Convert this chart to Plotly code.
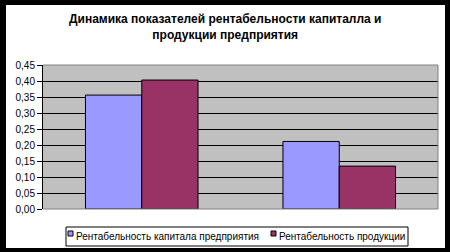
import plotly.graph_objects as go

categories = ["1", "2"]
capital = [0.356, 0.211]
product = [0.403, 0.134]
series_names = ["Рентабельность капитала предприятия", "Рентабельность продукции"]
series_colors = ["#9999FF", "#993366"]
tick_vals = [0, 0.05, 0.10, 0.15, 0.20, 0.25, 0.30, 0.35, 0.40, 0.45]
title_text = "Динамика показателей рентабельности капиталла и<br>продукции предприятия"

W, H = 450, 252
L, R, T, B = 43, 12, 65, 43
pw, ph = W - L - R, H - T - B

def px(x):
    return (x - L) / pw

def py(y):
    return (H - B - y) / ph

fig = go.Figure()
for vals, name, col in zip([capital, product], series_names, series_colors):
    fig.add_bar(x=categories, y=vals, name=name,
                marker=dict(color=col, line=dict(color="black", width=1)))

shapes = [
    dict(type="rect", xref="paper", yref="paper", layer="below",
         x0=px(6), x1=px(445), y0=py(248), y1=py(5),
         fillcolor="white", line=dict(width=0)),
    dict(type="rect", xref="paper", yref="paper", layer="below",
         x0=0, x1=1, y0=0, y1=1, fillcolor="#C0C0C0", line=dict(width=0)),
    dict(type="path", xref="paper", yref="paper", layer="above",
         path="M 0 1 L 1 1 L 1 0 L 0 0", line=dict(color="#808080", width=1)),
    # legend box
    dict(type="rect", xref="paper", yref="paper", layer="above",
         x0=px(66), x1=px(408), y0=py(246), y1=py(227),
         fillcolor="white", line=dict(color="black", width=1)),
]
annotations = [
    dict(text="<b>" + title_text + "</b>", xref="paper", yref="paper",
         x=px(225), y=py(27), xanchor="center", yanchor="middle", showarrow=False,
         font=dict(size=12, family="Liberation Sans, Arial", color="black")),
]
leg_sq_x = [68, 271]
for sx, name, col in zip(leg_sq_x, series_names, series_colors):
    shapes.append(dict(type="rect", xref="paper", yref="paper", layer="above",
                       x0=px(sx), x1=px(sx + 5), y0=py(236), y1=py(231),
                       fillcolor=col, line=dict(color="black", width=1)))
    annotations.append(dict(text=name, xref="paper", yref="paper",
                            x=px(sx + 6), y=py(236.5), xanchor="left", yanchor="middle",
                            showarrow=False,
                            font=dict(size=10, family="Liberation Sans, Arial", color="black")))

fig.update_layout(
    width=W, height=H,
    margin=dict(l=L, r=R, t=T, b=B, pad=0),
    paper_bgcolor="black",
    plot_bgcolor="rgba(0,0,0,0)",
    separators=", ",
    barmode="group", bargap=0.43, bargroupgap=0,
    font=dict(family="Liberation Sans, Arial", size=10, color="black"),
    showlegend=False,
    xaxis=dict(showticklabels=False, showgrid=False, zeroline=False, ticks=""),
    yaxis=dict(range=[0, 0.45], tickvals=tick_vals, tickformat=".2f",
               showgrid=True, gridcolor="black", gridwidth=1, zeroline=False,
               showline=True, linecolor="black", linewidth=1,
               ticks="outside", ticklen=5, tickcolor="black",
               tickfont=dict(size=10)),
    shapes=shapes,
    annotations=annotations,
)

fig.write_html("out.html")
